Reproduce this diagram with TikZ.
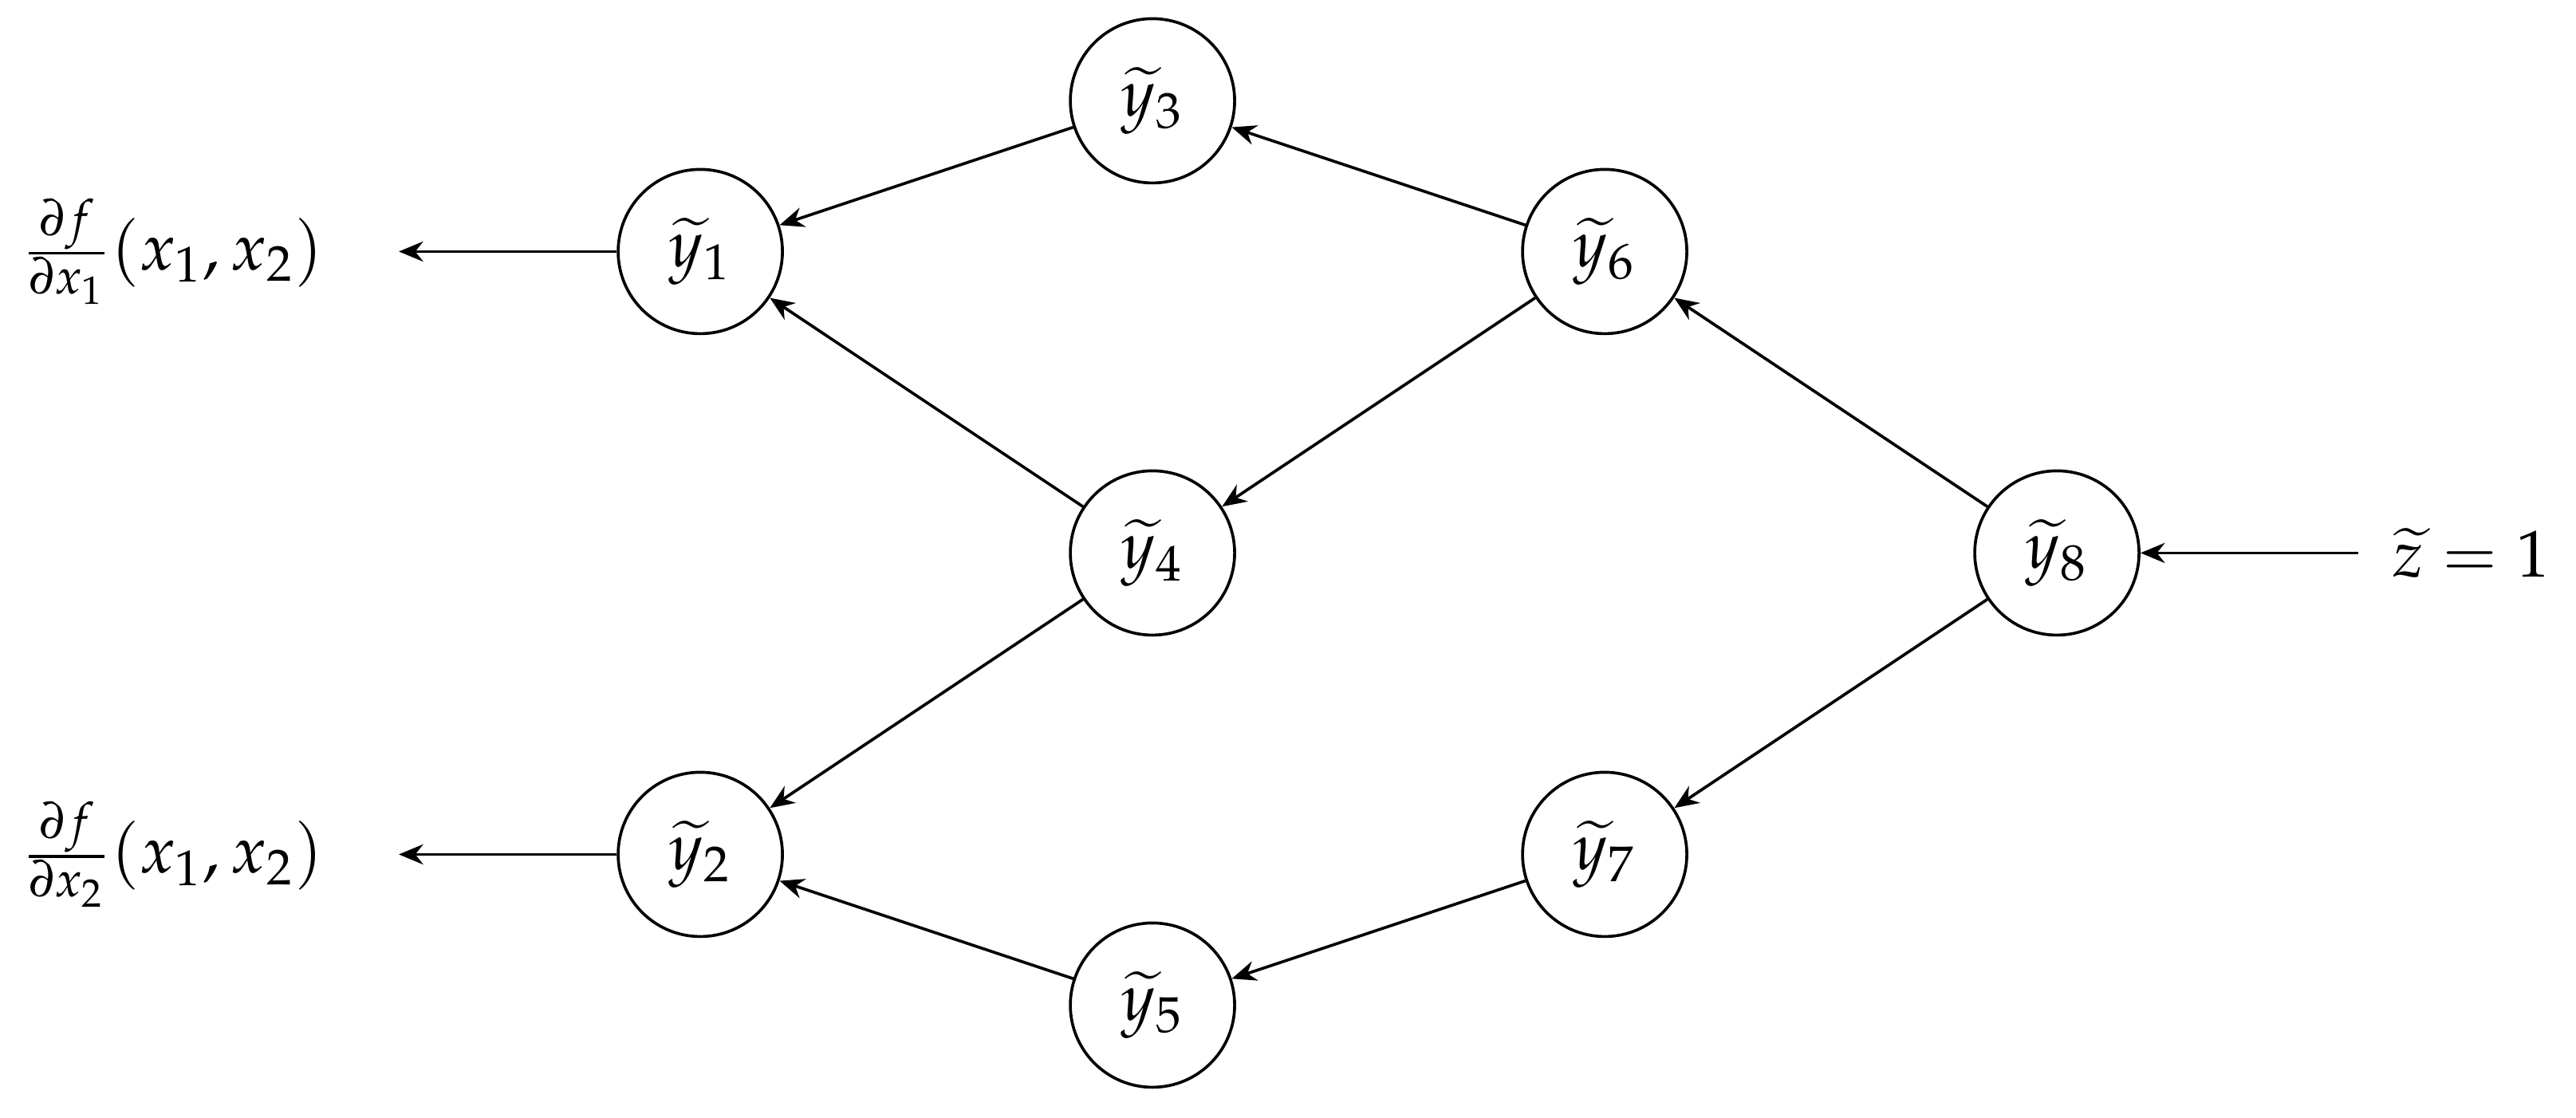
\documentclass[tikz,border=0pt]{standalone}
\usepackage{mathpazo}
\usetikzlibrary{arrows.meta}
\begin{document}
\begin{tikzpicture}[
  every node/.style={font=\fontsize{12.5}{15}\selectfont},
  var/.style={draw, circle, minimum size=1.09cm, inner sep=0pt, line width=0.55pt},
  conn/.style={-{Stealth[length=4.6pt,width=3.8pt,inset=1.5pt]}, line width=0.55pt},
]
\useasboundingbox (-4.646,-3.744) rectangle (12.444,3.669);
\node[var] (y1) at (0,2) {$\widetilde{y}_1$};
\node[var] (y2) at (0,-2) {$\widetilde{y}_2$};
\node[var] (y3) at (3,3) {$\widetilde{y}_3$};
\node[var] (y4) at (3,0) {$\widetilde{y}_4$};
\node[var] (y5) at (3,-3) {$\widetilde{y}_5$};
\node[var] (y6) at (6,2) {$\widetilde{y}_6$};
\node[var] (y7) at (6,-2) {$\widetilde{y}_7$};
\node[var] (y8) at (9,0) {$\widetilde{y}_8$};
\node (d1) at (-3.5,2) {$\frac{\partial f}{\partial x_1}(x_1,x_2)$};
\node (d2) at (-3.5,-2) {$\frac{\partial f}{\partial x_2}(x_1,x_2)$};
\node (z) at (11.75,0) {$\widetilde{z}=1$};
\coordinate (c1) at (-2,2);
\coordinate (c2) at (-2,-2);
\coordinate (cz) at (11,0);
\draw[conn] (y3) -- (y1);
\draw[conn] (y4) -- (y1);
\draw[conn] (y6) -- (y3);
\draw[conn] (y6) -- (y4);
\draw[conn] (y8) -- (y6);
\draw[conn] (y4) -- (y2);
\draw[conn] (y5) -- (y2);
\draw[conn] (y7) -- (y5);
\draw[conn] (y8) -- (y7);
\draw[conn] (y1) -- (c1);
\draw[conn] (y2) -- (c2);
\draw[conn] (cz) -- (y8);
\end{tikzpicture}
\end{document}
